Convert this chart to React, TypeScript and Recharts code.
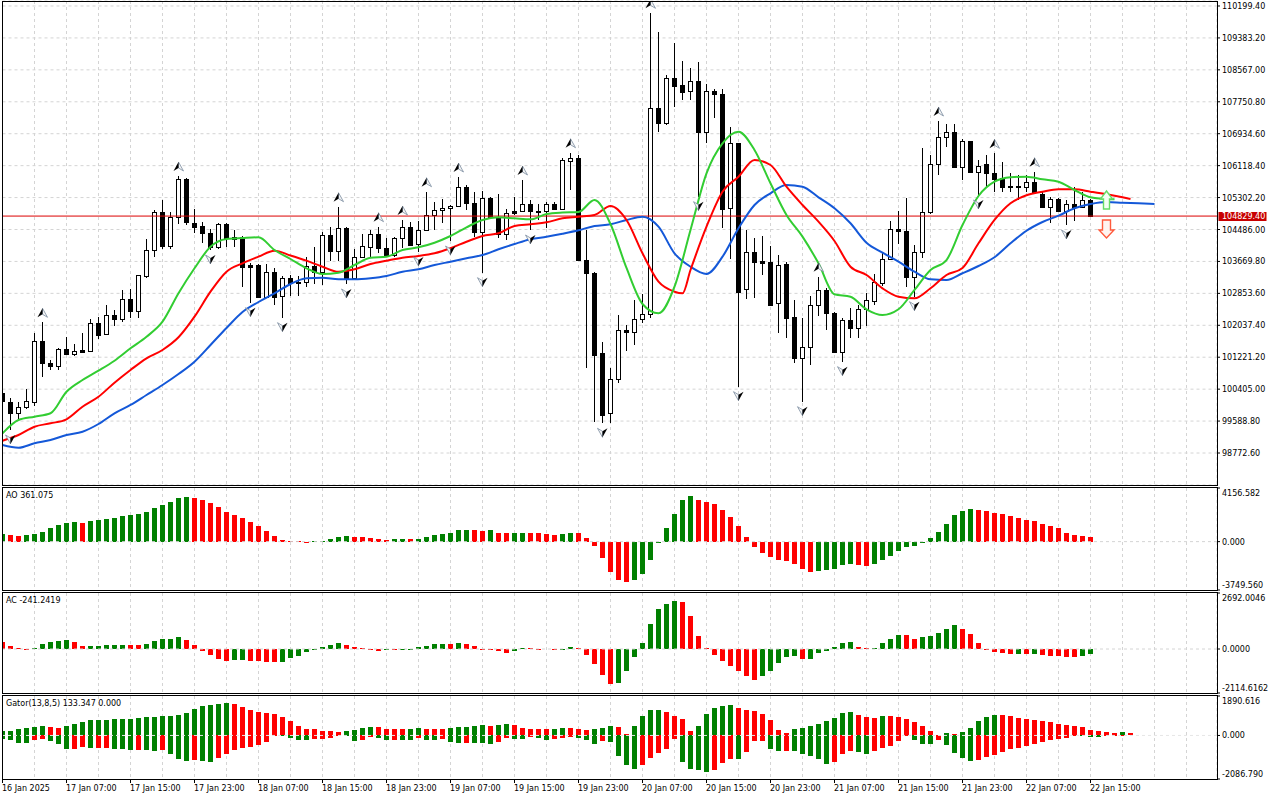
import React from 'react';
import { ComposedChart, Bar, Line, Scatter, XAxis, YAxis, CartesianGrid, ReferenceLine } from 'recharts';

const FONT = '"DejaVu Sans", Verdana, sans-serif';
const GREEN = '#008000';
const RED = '#ff0000';

// ---- H1 candles, index 0 = 16 Jan 2025 23:00 ----
const OPEN = [100307,100084,99788,99941,100084,101636,101081,101004,101431,101296,
101406,101388,102088,101807,102301,102191,102702,102410,103305,103962,
104934,104072,104798,105777,104660,104576,104404,104047,104621,104289,
104289,103579,103579,102768,103392,102794,103239,103144,103136,103553,
103407,104346,103944,104517,103239,103791,104047,104363,104006,103834,
104264,104542,104108,104473,104857,104985,105028,105095,105565,105156,
104414,105299,104813,104371,104959,104959,105138,104959,104959,105138,
105010,106245,106306,103706,103382,101321,99788,100657,101917,101874,
102191,102318,107584,107201,108351,108180,108027,108282,106971,108027,
107942,105028,106690,102957,103903,103681,103648,102600,103604,102257,
101194,101490,102556,102940,102359,101362,102173,101976,102454,102666,
103126,103724,104499,104448,103264,103919,104941,106153,106843,106986,
106092,106748,105948,106153,105938,105795,105598,105598,105565,105693,
105394,105069,105258,104967,105130,105053,105233];
const HIGH = [100383,100179,100069,100409,101848,102114,101150,101465,101730,101559,
101848,102198,102257,102556,102428,102940,102957,103323,104236,104985,
105240,104934,105854,105803,105010,104686,104499,104652,104652,104473,
104320,103622,103604,103597,103494,103297,103323,103305,103791,104031,
104414,104542,105069,104550,103988,104363,104473,104558,104264,104304,
104729,104678,104703,105452,105197,105266,105112,105828,105624,105452,
105470,105317,105386,105003,105325,105752,105240,105138,105197,105197,
106314,106449,106391,104473,103400,101618,100953,102301,102045,102684,
102830,110013,109527,108436,109261,108794,108607,108776,108198,108070,
108070,107114,106710,104473,104264,104320,104072,103834,103663,102684,
102216,102786,103280,102983,102377,102216,102472,102556,102871,103349,
103919,104703,104959,105284,104090,106562,106391,107260,107177,107177,
106792,106756,106263,106391,106434,106219,105923,105879,105879,105964,
105432,105325,105279,105240,105580,105452,105266];
const LOW = [100000,99361,99616,99898,99974,100723,100895,100895,101278,101260,
101347,101380,101679,101807,102019,102129,102216,102224,103254,103776,
103988,103988,104627,104601,104404,104149,103962,103988,104047,104047,
103024,102615,102735,102761,102556,102232,102794,102794,103024,103085,
103067,103689,103689,103093,103221,103758,103750,103878,103809,103791,
104013,104064,103911,104448,104473,104645,104192,105087,104985,104304,
103382,104806,104264,104218,104857,104934,104473,104729,104517,104985,
104985,105496,103681,100938,99573,99532,99547,100555,101388,101534,
102088,102216,106971,107157,107610,107797,107797,105325,106705,107329,
104532,103724,100468,102702,102727,103323,102531,101833,101705,101066,
100084,101022,102275,101917,101342,101107,101705,101720,102019,102556,
103042,103706,104108,103009,102768,103765,104875,105879,106603,106084,
105751,105943,105368,105580,105452,105452,105452,105240,105452,105432,
105048,104660,104959,104601,104711,105048,104822];
const CLOSE = [100102,99788,99941,100110,101636,101066,101004,101431,101296,101380,
101362,102088,101789,102293,102191,102702,102410,103315,103962,104934,
104072,104813,105777,104670,104558,104389,104047,104621,104264,104236,
103535,103535,102768,103392,102768,103239,103111,103126,103553,103407,
104346,103944,104517,103239,103791,104064,104363,104006,103834,104264,
104542,104090,104473,104857,104985,105028,105095,105565,105156,104414,
105299,104813,104371,104916,104916,105138,104959,104941,105138,105010,
106263,106306,103706,103382,101278,99744,100657,101917,101874,102191,
102318,107584,107201,108351,108154,108009,108282,106971,108027,107942,
105003,106690,102896,103903,103663,103637,102556,103579,102232,101194,
101490,102556,102940,102344,101362,102173,101976,102454,102684,103152,
103724,104499,104448,103264,103919,104941,106153,106843,106986,106092,
106748,105964,106117,105923,105777,105580,105580,105573,105693,105452,
105069,105258,104967,105130,105053,105233,104829.4];
const LAST_PRICE = CLOSE[CLOSE.length - 1];

// ---- Alligator (index, price) ----
const JAW: [number, number][] = [[0,98977],[2,98908],[4,99021],[6,99105],[8,99233],[10,99317],[12,99514],[14,99788],[16,100000],[18,100255],[20,100511],[22,100792],[24,101107],[26,101534],[28,101968],[30,102377],[32,102633],[34,102855],[36,103093],[38,103239],[40,103254],[42,103213],[44,103213],[46,103239],[48,103297],[50,103407],[52,103469],[54,103579],[56,103663],[58,103750],[60,103834],[62,103980],[64,104115],[66,104236],[68,104302],[70,104379],[72,104466],[74,104576],[76,104619],[78,104729],[80,104813],[82,104558],[84,103878],[86,103535],[88,103349],[90,103791],[92,104517],[94,105112],[96,105412],[98,105624],[100,105580],[102,105309],[104,105028],[106,104645],[108,104149],[110,103893],[112,103663],[114,103407],[116,103213],[118,103195],[120,103367],[122,103553],[124,103776],[126,104133],[128,104455],[130,104678],[132,104839],[134,105028],[136,105138],[138,105189],[140,105171],[142,105156],[144,105138]];
const TEETH: [number, number][] = [[0,99087],[2,99233],[4,99445],[6,99532],[8,99634],[10,99956],[12,100212],[14,100570],[16,100895],[18,101194],[20,101406],[22,101730],[24,102257],[26,102896],[28,103407],[30,103622],[32,103791],[34,103944],[36,103822],[38,103689],[40,103535],[42,103407],[44,103469],[46,103604],[48,103689],[50,103765],[52,103809],[54,103878],[56,104006],[58,104174],[60,104320],[62,104389],[64,104576],[66,104621],[68,104670],[70,104772],[72,104813],[74,104857],[76,105087],[78,104729],[80,103878],[82,103152],[84,102896],[85,102855],[86,103451],[88,104558],[90,105452],[92,105836],[94,106263],[96,106135],[98,105580],[100,105112],[102,104686],[104,104192],[106,103535],[108,103323],[110,102983],[112,102768],[114,102727],[116,102983],[118,103323],[120,103502],[122,104133],[124,104729],[126,105156],[128,105360],[130,105452],[132,105514],[134,105514],[136,105452],[138,105386],[140,105309],[141,105266]];
const LIPS: [number, number][] = [[0,99276],[2,99616],[4,99701],[6,99788],[8,100340],[10,100639],[12,100877],[14,101132],[16,101449],[18,101746],[20,102129],[22,102855],[24,103494],[26,104046],[28,104243],[30,104269],[32,104287],[34,103962],[36,103732],[38,103494],[40,103349],[42,103382],[44,103579],[46,103765],[48,103791],[50,103962],[52,104031],[54,104149],[56,104320],[58,104542],[60,104729],[62,104798],[64,104772],[66,104747],[68,104882],[70,104921],[72,104934],[74,105240],[76,104627],[78,103502],[80,102582],[82,102344],[84,103024],[86,104473],[88,105923],[90,106690],[92,106986],[94,106518],[96,105667],[98,104857],[100,104304],[102,103622],[104,102830],[106,102768],[108,102446],[110,102301],[112,102446],[114,102940],[116,103451],[118,103706],[120,104601],[122,105343],[124,105708],[126,105821],[128,105836],[130,105769],[132,105708],[134,105496],[136,105309],[138,105266],[139,105258]];

// ---- Fractals (candle indices) ----
const FRACTAL_UP = [5, 22, 42, 47, 50, 53, 57, 65, 71, 81, 102, 117, 124, 129];
const FRACTAL_DOWN = [1, 26, 31, 35, 43, 52, 56, 60, 66, 75, 87, 92, 100, 105, 114, 122, 133];

// ---- signal arrows ----
const SIGNAL_INDEX = [138, 138];
const SIGNAL_PRICE = [105240, 104499];
const SIGNAL_DIR = ['up', 'down'];

// ---- Awesome Oscillator ----
const AO_BEFORE = 560;
const AO = [600,548,470,548,560,783,1018,1252,1409,1487,
1470,1565,1644,1722,1800,1957,2035,2113,2270,2583,
2818,3053,3366,3444,3400,3209,2974,2661,2270,2035,
1800,1487,1174,861,470,157,78,20,-10,10,
78,209,391,400,390,385,313,235,157,200,
215,205,209,339,522,600,678,913,920,910,
861,870,704,652,660,704,700,695,626,548,
555,704,700,313,-365,-1305,-2322,-2974,-3105,-2974,
-2479,-1409,-130,1018,2113,3209,3522,3209,3053,2896,
2426,1878,1174,391,-444,-913,-1226,-1409,-1487,-1696,
-2087,-2322,-2270,-2218,-2087,-1826,-1748,-1826,-1852,-1748,
-1435,-1148,-757,-444,-339,-52,287,783,1357,2035,
2348,2505,2426,2348,2192,2113,1957,1800,1644,1565,
1383,1174,1018,704,548,417,361.075];
const AO_TICKS = [-3749.56, 0, 4156.582];

// ---- Accelerator Oscillator ----
const AC_BEFORE = 420;
const AC = [324,146,32,5,32,243,324,388,437,324,
146,150,155,194,198,202,195,190,243,388,
469,475,582,421,194,-81,-275,-485,-582,-534,
-530,-582,-590,-615,-630,-625,-437,-340,-162,-10,
97,194,275,194,97,32,-16,-81,-65,-70,
-40,-20,97,146,243,250,240,291,243,146,
-16,-49,-81,-178,-81,32,28,16,0,-16,
-5,97,32,-291,-712,-1262,-1699,-1634,-1068,-372,
291,1214,1942,2184,2330,2281,1602,631,32,-291,
-582,-825,-1068,-1311,-1505,-1311,-1068,-680,-372,-340,
-485,-480,-210,-81,81,275,340,81,32,35,
275,469,680,675,469,566,631,760,971,1165,
971,728,275,-16,-129,-178,-243,-235,-245,-240,
-291,-340,-345,-372,-380,-324,-241.2419];
const AC_TICKS = [-2114.6162, 0, 2692.0046];

// ---- Gator oscillator ----
const GATOR_UP_BEFORE = 200;
const GATOR_DOWN_BEFORE = -170;
const GATOR_UP = [220,237,331,379,426,473,426,379,473,568,
663,757,760,763,766,805,808,852,899,902,
947,950,994,1089,1278,1420,1468,1515,1562,1515,
1373,1231,1136,1089,1041,899,710,473,331,325,
237,230,189,237,245,379,426,420,331,325,
300,316,379,331,325,320,379,385,426,473,
521,473,521,525,515,379,331,325,320,331,
379,375,331,284,290,379,473,426,47,473,
947,1231,1235,1136,947,805,237,473,1041,1326,
1420,1468,1326,1231,1184,1041,757,284,95,331,
379,473,568,710,852,1089,1136,994,899,852,
947,940,899,805,663,473,237,5,95,47,
189,379,710,899,994,990,947,852,805,757,
710,663,568,521,473,426,284,237,142,140,
145,133.347];
const GATOR_DOWN = [-190,-205,-355,-363,-205,-174,-268,-410,-647,-640,
-552,-600,-595,-590,-647,-650,-694,-690,-697,-742,
-694,-884,-1120,-1215,-1168,-1215,-1262,-1073,-884,-694,
-600,-552,-458,-300,-16,-32,-110,-205,-210,-174,
-170,-110,-32,-35,-268,-221,-79,-110,-221,-215,
-225,-240,-126,-221,-230,-174,-316,-363,-355,-360,
-365,-410,-316,-126,-174,-180,-79,-126,-221,-174,
-126,-79,-126,-221,-410,-268,-316,-978,-1404,-1594,
-1404,-1073,-836,-647,-174,-1262,-1594,-1641,-1736,-1641,
-1310,-1120,-1125,-789,-268,-260,-647,-742,-735,-745,
-884,-978,-1120,-1373,-1262,-884,-742,-789,-884,-742,
-600,-505,-268,-32,-221,-410,-415,-221,-458,-836,
-1073,-1215,-1168,-1026,-931,-789,-647,-600,-505,-410,
-316,-221,-174,-126,-32,-40,-79,-85,-10,-5,
-3,0];
const GATOR_TICKS = [-2086.79, 0, 1890.616];

// ---- axes ----
const PRICE_TICKS = [98772.6, 99588.8, 100405.0, 101221.2, 102037.4, 102853.6, 103669.8, 104486.0, 105302.2, 106118.4, 106934.6, 107750.8, 108567.0, 109383.2, 110199.4];
const PRICE_MIN = 97954.7;
const PRICE_MAX = 110327.2;
const X_MAX = 151.8125;
const GRID_TICKS = Array.from({ length: 38 }, (_, k) => k * 4);
const LABEL_TICKS = [0, 8, 16, 24, 32, 40, 48, 56, 64, 72, 80, 88, 96, 104, 112, 120, 128, 136];
const TIME_LABELS = ['16 Jan 2025', '17 Jan 07:00', '17 Jan 15:00', '17 Jan 23:00', '18 Jan 07:00', '18 Jan 15:00', '18 Jan 23:00', '19 Jan 07:00', '19 Jan 15:00', '19 Jan 23:00', '20 Jan 07:00', '20 Jan 15:00', '20 Jan 23:00', '21 Jan 07:00', '21 Jan 15:00', '21 Jan 23:00', '22 Jan 07:00', '22 Jan 15:00'];

// ---- tables ----
const candleRows = OPEN.map((o, i) => ({ i, o, h: HIGH[i], l: LOW[i], c: CLOSE[i] }));
const colorSeq = (vals: number[], before: number, abs = false) =>
  vals.map((v, k) => {
    const prev = k === 0 ? before : vals[k - 1];
    return (abs ? Math.abs(v) > Math.abs(prev) : v > prev) ? GREEN : RED;
  });
const aoColors = colorSeq(AO, AO_BEFORE);
const aoRows = AO.map((v, i) => ({ i, v, color: aoColors[i] }));
const acColors = colorSeq(AC, AC_BEFORE);
const acRows = AC.map((v, i) => ({ i, v, color: acColors[i] }));
const gUpColors = colorSeq(GATOR_UP, GATOR_UP_BEFORE, true);
const gDnColors = colorSeq(GATOR_DOWN, GATOR_DOWN_BEFORE, true);
const gatorRows = GATOR_UP.map((u, i) => ({ i, up: u, down: GATOR_DOWN[i], upColor: gUpColors[i], downColor: gDnColors[i] }));
const toPts = (arr: [number, number][]) => arr.map(([i, v]) => ({ i, v }));
const fractalUpRows = FRACTAL_UP.map((i) => ({ i, p: HIGH[i] }));
const fractalDownRows = FRACTAL_DOWN.map((i) => ({ i, p: LOW[i] }));
const signalRows = SIGNAL_INDEX.map((i, k) => ({ i, p: SIGNAL_PRICE[k], dir: SIGNAL_DIR[k] }));

// ---- shapes ----
const Candle = (props: any) => {
  const { x, y, width, height, payload } = props;
  if (x == null || y == null || payload == null) return null;
  const { o, h, l, c } = payload;
  const cx = Math.floor(x + width / 2);
  const k = h === l ? 0 : height / (h - l);
  const yO = y + (h - o) * k;
  const yC = y + (h - c) * k;
  const top = Math.round(Math.min(yO, yC));
  const bot = Math.round(Math.max(yO, yC));
  const bull = c >= o;
  return (
    <g>
      <line x1={cx + 0.5} x2={cx + 0.5} y1={Math.round(y)} y2={Math.round(y + height)} stroke="#000" strokeWidth={1} />
      {bot - top < 1 ? (
        <line x1={cx - 2} x2={cx + 3} y1={top + 0.5} y2={top + 0.5} stroke="#000" strokeWidth={1} />
      ) : (
        <rect x={cx - 1.5} y={top + 0.5} width={4} height={bot - top} fill={bull ? '#fff' : '#000'} stroke="#000" strokeWidth={1} />
      )}
    </g>
  );
};

const makeHist = (colorKey: string) => (props: any) => {
  const { x, y, width, height, payload } = props;
  if (x == null || y == null || height == null || !payload) return null;
  if (Math.abs(height) < 0.05) return null;
  const top = Math.round(Math.min(y, y + height));
  const bottom = Math.round(Math.max(y, y + height));
  const cx = Math.floor(x + width / 2);
  return <rect x={cx - 2} y={top} width={5} height={Math.max(bottom - top, 1)} fill={payload[colorKey]} />;
};

// Bill Williams fractal glyph: dark half + light outlined half
const FractalMark = (dir: string) => (props: any) => {
  const { cx, cy } = props;
  if (cx == null || cy == null) return null;
  const x = Math.floor(cx) + 0.5;
  if (dir === 'up') {
    const c = cy - 9;
    return (
      <g>
        <polygon points={`${x},${c - 5} ${x + 5},${c + 4} ${x},${c + 1}`} fill="#f4f4f4" stroke="#7a8ca0" strokeWidth={0.8} />
        <polygon points={`${x},${c - 5} ${x},${c + 1} ${x - 5},${c + 4}`} fill="#000" />
      </g>
    );
  }
  const c = cy + 9;
  return (
    <g>
      <polygon points={`${x},${c + 5} ${x - 5},${c - 4} ${x},${c - 1}`} fill="#f4f4f4" stroke="#7a8ca0" strokeWidth={0.8} />
      <polygon points={`${x},${c + 5} ${x},${c - 1} ${x + 5},${c - 4}`} fill="#000" />
    </g>
  );
};

const SignalMark = (props: any) => {
  const { cx, cy, payload } = props;
  if (cx == null || cy == null || !payload) return null;
  const x = Math.floor(cx) + 0.5;
  const y = cy;
  if (payload.dir === 'up') {
    const pts = [[x, y - 9], [x + 6, y - 1], [x + 3, y - 1], [x + 3, y + 9], [x - 3, y + 9], [x - 3, y - 1], [x - 6, y - 1]];
    return <polygon points={pts.map((p) => p.join(',')).join(' ')} fill="#f4fff4" stroke="#66dd66" strokeWidth={1.4} />;
  }
  const pts = [[x - 4, y - 9], [x + 4, y - 9], [x + 4, y + 1], [x + 7.5, y + 1], [x, y + 9], [x - 7.5, y + 1], [x - 4, y + 1]];
  return <polygon points={pts.map((p) => p.join(',')).join(' ')} fill="#fff4f0" stroke="#ff5a3c" strokeWidth={1.4} />;
};

const PriceTick = (props: any) => {
  const { x, y, payload } = props;
  return (
    <text x={x} y={y} dy={3} fontSize={8} fontFamily={FONT} fill="#000">
      {Number(payload.value).toFixed(2)}
    </text>
  );
};

const subTick = (ticks: number[], decimals: number) => (props: any) => {
  const { x, y, payload } = props;
  const v = Number(payload.value);
  const shift = v === ticks[2] ? 4.5 : v === ticks[0] ? -5.5 : 0;
  return (
    <text x={x} y={y + shift} dy={3} fontSize={8} fontFamily={FONT} fill="#000">
      {v.toFixed(decimals)}
    </text>
  );
};

const TimeTick = (props: any) => {
  const { x, y, payload } = props;
  const k = LABEL_TICKS.indexOf(Number(payload.value));
  if (k < 0) return null;
  return (
    <text x={Math.floor(x)} y={y} dy={8} fontSize={8} fontFamily={FONT} fill="#000">
      {TIME_LABELS[k]}
    </text>
  );
};

const PriceFlag = (props: any) => {
  const vb = props.viewBox || {};
  const xr = (vb.x || 0) + (vb.width || 0);
  const y = vb.y || 0;
  return (
    <g>
      <rect x={xr + 1.5} y={Math.round(y) - 4} width={48} height={9} fill="#c80000" />
      <text x={xr + 5} y={y} dy={3} fontSize={8} fontFamily={FONT} fill="#fff">
        {LAST_PRICE.toFixed(2)}
      </text>
    </g>
  );
};

const GRID_STROKE = '#d4d4d4';

const boxStyle = (top: number, height: number): React.CSSProperties => ({
  position: 'absolute', left: 2, top, width: 1216, height, border: '1px solid #000', boxSizing: 'border-box', pointerEvents: 'none',
});
const labelStyle = (top: number): React.CSSProperties => ({
  position: 'absolute', left: 6, top, fontSize: 8, lineHeight: '10px', fontFamily: FONT, color: '#000', whiteSpace: 'nowrap',
});

const SubPanel = ({ top, height, rows, ticks, decimals }: any) => (
  <div style={{ position: 'absolute', left: 0, top }}>
    <ComposedChart width={1280} height={height} data={rows} margin={{ top: 1, right: 0, bottom: 1, left: 2.5 }}>
      <XAxis type="number" dataKey="i" domain={[0, X_MAX]} allowDataOverflow ticks={GRID_TICKS} interval={0} hide />
      <YAxis orientation="right" width={63} type="number" domain={[ticks[0], ticks[2]]} allowDataOverflow ticks={ticks} interval={0}
        tick={subTick(ticks, decimals)} tickSize={3} tickMargin={2} axisLine={false} tickLine={{ stroke: '#000' }} />
      <CartesianGrid horizontal={false} stroke={GRID_STROKE} strokeDasharray="3 3" />
      <Bar dataKey="v" barSize={5} isAnimationActive={false} shape={makeHist('color')} />
      <ReferenceLine y={0} stroke={GRID_STROKE} strokeDasharray="3 3" />
    </ComposedChart>
  </div>
);

export default function App() {
  const lastAO = AO[AO.length - 1];
  const lastAC = AC[AC.length - 1];
  const lastGU = GATOR_UP[GATOR_UP.length - 1];
  const lastGD = GATOR_DOWN[GATOR_DOWN.length - 1];
  return (
    <div style={{ position: 'absolute', left: 0, top: 0, width: 1280, height: 800, background: '#fff', overflow: 'hidden' }}>
      <div style={{ position: 'absolute', left: 0, top: 0 }}>
        <ComposedChart width={1280} height={486} data={candleRows} margin={{ top: 1, right: 0, bottom: 1, left: 2.5 }}>
          <XAxis type="number" dataKey="i" domain={[0, X_MAX]} allowDataOverflow ticks={GRID_TICKS} interval={0} hide />
          <YAxis orientation="right" width={63} type="number" domain={[PRICE_MIN, PRICE_MAX]} allowDataOverflow ticks={PRICE_TICKS} interval={0}
            tick={PriceTick} tickSize={3} tickMargin={2} axisLine={false} tickLine={{ stroke: '#000' }} />
          <CartesianGrid stroke={GRID_STROKE} strokeDasharray="3 3" />
          <ReferenceLine y={LAST_PRICE} stroke="#dc0000" strokeWidth={1} label={PriceFlag} />
          <Line data={toPts(JAW)} dataKey="v" type="monotone" stroke="#1458d8" strokeWidth={2} dot={false} isAnimationActive={false} />
          <Line data={toPts(TEETH)} dataKey="v" type="monotone" stroke="#ff0000" strokeWidth={2} dot={false} isAnimationActive={false} />
          <Line data={toPts(LIPS)} dataKey="v" type="monotone" stroke="#32cd32" strokeWidth={2} dot={false} isAnimationActive={false} />
          <Bar dataKey={(d: any) => [d.l, d.h]} barSize={5} isAnimationActive={false} shape={Candle} />
          <Scatter data={fractalUpRows} dataKey="p" isAnimationActive={false} shape={FractalMark('up')} />
          <Scatter data={fractalDownRows} dataKey="p" isAnimationActive={false} shape={FractalMark('down')} />
          <Scatter data={signalRows} dataKey="p" isAnimationActive={false} shape={SignalMark} />
        </ComposedChart>
      </div>

      <SubPanel top={487} height={104} rows={aoRows} ticks={AO_TICKS} decimals={3} />
      <SubPanel top={592} height={102} rows={acRows} ticks={AC_TICKS} decimals={4} />

      <div style={{ position: 'absolute', left: 0, top: 695 }}>
        <ComposedChart width={1280} height={105} data={gatorRows} stackOffset="sign" margin={{ top: 1, right: 0, bottom: 0, left: 2.5 }}>
          <XAxis type="number" dataKey="i" domain={[0, X_MAX]} allowDataOverflow ticks={LABEL_TICKS} interval={0} height={21}
            tick={TimeTick} tickSize={4} tickMargin={0} axisLine={false} tickLine={{ stroke: '#000' }} />
          <XAxis xAxisId="grid" type="number" dataKey="i" domain={[0, X_MAX]} allowDataOverflow ticks={GRID_TICKS} interval={0} hide />
          <YAxis orientation="right" width={63} type="number" domain={[GATOR_TICKS[0], GATOR_TICKS[2]]} allowDataOverflow ticks={GATOR_TICKS} interval={0}
            tick={subTick(GATOR_TICKS, 3)} tickSize={3} tickMargin={2} axisLine={false} tickLine={{ stroke: '#000' }} />
          <CartesianGrid xAxisId="grid" horizontal={false} stroke={GRID_STROKE} strokeDasharray="3 3" />
          <Bar dataKey="up" stackId="g" barSize={5} isAnimationActive={false} shape={makeHist('upColor')} />
          <Bar dataKey="down" stackId="g" barSize={5} isAnimationActive={false} shape={makeHist('downColor')} />
          <ReferenceLine y={0} stroke="#e6e6e6" strokeDasharray="3 3" />
        </ComposedChart>
      </div>

      <div style={boxStyle(1, 485)} />
      <div style={boxStyle(487, 104)} />
      <div style={boxStyle(592, 102)} />
      <div style={boxStyle(695, 85)} />

      <div style={labelStyle(491)}>{`AO ${lastAO.toFixed(3)}`}</div>
      <div style={labelStyle(596)}>{`AC ${lastAC.toFixed(4)}`}</div>
      <div style={labelStyle(699)}>{`Gator(13,8,5) ${lastGU.toFixed(3)} ${Math.abs(lastGD).toFixed(3)}`}</div>
    </div>
  );
}
